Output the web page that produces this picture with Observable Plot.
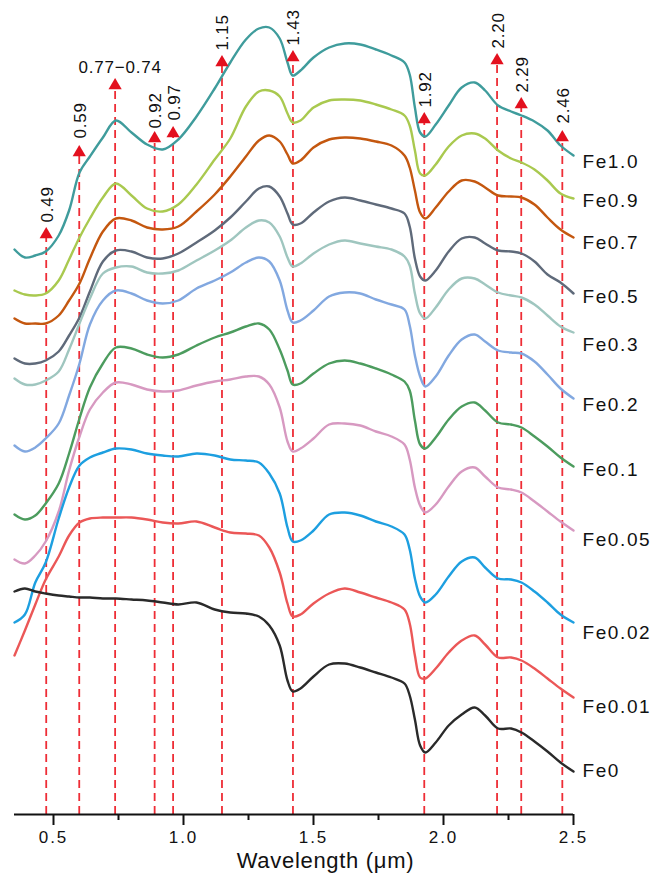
<!DOCTYPE html>
<html><head><meta charset="utf-8">
<script src="https://cdn.jsdelivr.net/npm/d3@7"></script>
<script src="https://cdn.jsdelivr.net/npm/@observablehq/plot@0.6"></script>
<style>
body{margin:0;background:#fff;font-family:"Liberation Sans",Arial,sans-serif;}
#chart svg{display:block;overflow:visible}
#chart svg text{letter-spacing:0.8px}
#chart svg g[aria-label="x-axis tick label"] text{letter-spacing:2px}
#chart svg g[font-size="19"] text{letter-spacing:1.6px}
#xlabel{width:651px;text-align:center;font-size:22px;letter-spacing:0.7px;color:#111;line-height:32px;height:32px}
</style></head><body><div id="chart"></div><div id="xlabel">Wavelength (μm)</div>
<script>
// Wavelength grid (µm)
const wavelengths = [0.35,0.39,0.43,0.47,0.52,0.56,0.60,0.64,0.69,0.74,0.80,0.86,0.92,0.98,1.05,1.12,1.18,1.24,1.29,1.33,1.37,1.40,1.42,1.45,1.50,1.56,1.62,1.68,1.74,1.80,1.85,1.87,1.89,1.91,1.93,1.97,2.02,2.07,2.12,2.16,2.21,2.26,2.30,2.35,2.40,2.45,2.50];

// Offset reflectance (a.u.) for each sample
const fe10 = [5.65,5.57,5.59,5.63,5.79,6.04,6.42,6.58,6.77,6.94,6.82,6.70,6.65,6.75,6.98,7.26,7.52,7.75,7.86,7.87,7.76,7.52,7.39,7.44,7.57,7.67,7.71,7.70,7.65,7.59,7.52,7.40,7.07,6.82,6.78,6.90,7.09,7.27,7.32,7.24,7.09,7.03,6.99,6.93,6.84,6.69,6.59];
const fe09 = [5.24,5.20,5.19,5.21,5.34,5.55,5.77,5.96,6.17,6.31,6.19,6.06,6.03,6.10,6.30,6.55,6.76,7.08,7.23,7.24,7.18,7.01,6.92,6.94,7.07,7.14,7.15,7.14,7.10,7.05,6.99,6.89,6.64,6.41,6.39,6.50,6.68,6.79,6.81,6.76,6.64,6.56,6.52,6.45,6.34,6.21,6.16];
const fe07 = [4.96,4.91,4.91,4.91,4.99,5.14,5.31,5.56,5.83,5.96,5.94,5.87,5.85,5.88,6.03,6.20,6.38,6.58,6.74,6.79,6.73,6.60,6.51,6.54,6.67,6.75,6.77,6.76,6.73,6.69,6.59,6.47,6.24,6.02,5.96,6.07,6.23,6.34,6.33,6.27,6.19,6.18,6.17,6.10,5.97,5.85,5.77];
const fe05 = [4.56,4.51,4.51,4.54,4.63,4.79,4.97,5.23,5.53,5.64,5.63,5.57,5.56,5.61,5.72,5.84,5.97,6.13,6.26,6.28,6.18,6.01,5.90,5.91,6.02,6.13,6.17,6.14,6.10,6.06,6.01,5.88,5.56,5.38,5.34,5.44,5.63,5.76,5.77,5.71,5.64,5.63,5.61,5.53,5.40,5.32,5.21];
const fe03 = [4.36,4.30,4.30,4.34,4.43,4.65,4.91,5.16,5.41,5.47,5.48,5.42,5.41,5.44,5.54,5.64,5.74,5.87,5.94,5.92,5.78,5.57,5.48,5.51,5.61,5.70,5.74,5.71,5.68,5.65,5.58,5.49,5.21,5.01,4.96,5.07,5.25,5.36,5.36,5.30,5.22,5.19,5.17,5.10,4.99,4.88,4.82];
const fe02 = [3.69,3.63,3.67,3.76,3.91,4.19,4.51,4.90,5.14,5.24,5.21,5.14,5.11,5.14,5.26,5.34,5.42,5.52,5.57,5.53,5.34,5.04,4.92,4.94,5.04,5.18,5.22,5.21,5.15,5.10,5.05,4.89,4.59,4.38,4.28,4.38,4.59,4.75,4.80,4.73,4.64,4.62,4.61,4.53,4.40,4.26,4.16];
const fe01 = [3.00,2.95,2.99,3.11,3.31,3.61,3.96,4.27,4.51,4.67,4.66,4.60,4.57,4.60,4.69,4.77,4.82,4.88,4.91,4.85,4.65,4.44,4.30,4.31,4.41,4.51,4.54,4.51,4.46,4.40,4.33,4.24,3.94,3.70,3.66,3.77,3.95,4.08,4.12,4.04,3.92,3.90,3.87,3.78,3.68,3.57,3.48];
const fe005 = [2.55,2.51,2.59,2.73,3.03,3.44,3.78,4.05,4.22,4.32,4.30,4.25,4.23,4.24,4.29,4.33,4.35,4.38,4.38,4.30,4.07,3.73,3.63,3.66,3.76,3.90,3.91,3.89,3.83,3.78,3.70,3.55,3.27,3.09,3.02,3.10,3.28,3.43,3.47,3.38,3.27,3.25,3.22,3.13,3.03,2.93,2.84];
const fe002 = [1.92,2.00,2.32,2.52,2.96,3.27,3.49,3.57,3.62,3.66,3.65,3.61,3.59,3.58,3.61,3.59,3.55,3.54,3.52,3.41,3.21,2.87,2.73,2.74,2.84,3.00,3.02,2.99,2.93,2.88,2.80,2.65,2.36,2.18,2.12,2.20,2.38,2.53,2.57,2.47,2.36,2.35,2.32,2.23,2.12,2.00,1.92];
const fe001 = [1.59,1.84,2.10,2.35,2.58,2.79,2.92,2.96,2.97,2.97,2.97,2.95,2.92,2.91,2.93,2.87,2.82,2.81,2.79,2.67,2.42,2.11,1.98,2.00,2.11,2.21,2.26,2.22,2.17,2.12,2.05,1.91,1.59,1.37,1.36,1.46,1.62,1.74,1.79,1.70,1.57,1.57,1.54,1.46,1.36,1.26,1.17];
const fe0 = [2.23,2.26,2.23,2.21,2.19,2.18,2.17,2.17,2.16,2.16,2.15,2.14,2.12,2.10,2.12,2.05,2.02,2.01,1.98,1.89,1.69,1.34,1.23,1.26,1.38,1.50,1.51,1.47,1.42,1.37,1.31,1.19,0.95,0.69,0.62,0.72,0.89,1.00,1.07,0.99,0.86,0.86,0.82,0.73,0.63,0.52,0.43];

const seriesNames = ["Fe1.0","Fe0.9","Fe0.7","Fe0.5","Fe0.3","Fe0.2","Fe0.1","Fe0.05","Fe0.02","Fe0.01","Fe0"];
const seriesValues = [fe10,fe09,fe07,fe05,fe03,fe02,fe01,fe005,fe002,fe001,fe0];
const seriesColors = ["#3f9c9c","#a9c94f","#c4570f","#5f6a7a","#9fc6bf","#82a8e0","#4c9c5e","#d799c1","#1d9fe0","#eb5757","#2a2a2a"];
const seriesLabelY = [6.53,6.14,5.72,5.18,4.70,4.10,3.45,2.75,1.82,1.08,0.44];

// Absorption feature markers
const peakLabels = ["0.49","0.59","0.77−0.74","0.92","0.97","1.15","1.43","1.92","2.20","2.29","2.46"];
const peakX = [0.472,0.599,0.737,0.889,0.960,1.148,1.421,1.926,2.206,2.299,2.457];
const peakY = [5.80,6.62,7.29,6.76,6.81,7.52,7.57,6.95,7.54,7.10,6.77];
const peakLabelY = [5.92,6.76,7.47,6.86,6.94,7.64,7.69,7.07,7.66,7.22,6.91];

const majorTicks = [0.5,1.0,1.5,2.0,2.5];
const minorTicks = [0.75,1.25,1.75,2.25];

const peaks = peakLabels.map((label,i)=>({label, x: peakX[i], y: peakY[i], ly: peakLabelY[i]}));
const seriesLabels = seriesNames.map((name,i)=>({name, y: seriesLabelY[i]}));

const red = "#ee2d36";
const marks = [
  Plot.ruleX(peaks, {x: "x", y1: 0, y2: "y", stroke: red, strokeWidth: 1.8, strokeDasharray: "8,5"})
];
seriesNames.forEach((name,i)=>{
  const rows = wavelengths.map((w,j)=>({w, v: seriesValues[i][j]}));
  marks.push(Plot.line(rows, {x: "w", y: "v", stroke: seriesColors[i], strokeWidth: 2.4, curve: "catmull-rom"}));
});
marks.push(
  Plot.dot(peaks, {x: "x", y: "y", symbol: "triangle", r: 4.9, fill: "#e3101e", stroke: "none"}),
  Plot.text(peaks.filter(d=>!d.label.includes("−")), {x: "x", y: "ly", text: "label", rotate: -90, textAnchor: "start", lineAnchor: "middle", dx: 1, fontSize: 17, fill: "#111"}),
  Plot.text(peaks.filter(d=>d.label.includes("−")), {x: "x", y: "ly", text: "label", textAnchor: "middle", lineAnchor: "middle", dx: 5, fontSize: 17, fill: "#111"}),
  Plot.text(seriesLabels, {frameAnchor: "right", y: "y", text: "name", textAnchor: "start", lineAnchor: "middle", dx: 9, fontSize: 19, fill: "#111"}),
  Plot.ruleY([0], {stroke: "#111", strokeWidth: 2.2}),
  Plot.axisX(majorTicks, {tickSize: 11, tickPadding: 5, tickFormat: d3.format(".1f"), fontSize: 17, label: null, strokeWidth: 2, stroke: "#111", fill: "#111"}),
  Plot.axisX(minorTicks, {tickSize: 6, tickFormat: () => "", label: null, strokeWidth: 2, stroke: "#111"})
);

const chart = Plot.plot({
  width: 651, height: 845,
  marginLeft: 14, marginRight: 78, marginTop: 0, marginBottom: 31,
  style: {fontFamily: "Liberation Sans, Arial, sans-serif", background: "#fff", overflow: "visible"},
  x: {domain: [0.35, 2.5], axis: null},
  y: {domain: [0, 8.14], axis: null},
  marks
});
document.getElementById("chart").appendChild(chart);
</script></body></html>
